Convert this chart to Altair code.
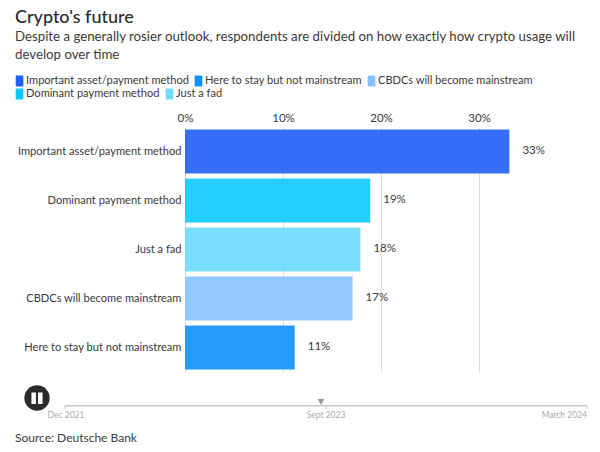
import altair as alt
import pandas as pd

categories = ["Important asset/payment method", "Dominant payment method", "Just a fad",
              "CBDCs will become mainstream", "Here to stay but not mainstream"]
values = [33.1, 18.9, 17.9, 17.1, 11.2]
labels = ["33%", "19%", "18%", "17%", "11%"]
legend_row1 = ["Important asset/payment method", "Here to stay but not mainstream", "CBDCs will become mainstream"]
legend_row2 = ["Dominant payment method", "Just a fad"]
colors_row1 = ["#1f5ff7", "#0f8ff8", "#85c2ff"]
colors_row2 = ["#0ccaff", "#6cdbff"]
x_ticks = [0, 10, 20, 30]

FONT = "Lato"
TXT = "#3a3a3a"
SYMBOL = "M-0.5,-1 L0.5,-1 Q0.7,-1 0.7,-0.75 L0.7,0.75 Q0.7,1 0.5,1 L-0.5,1 Q-0.7,1 -0.7,0.75 L-0.7,-0.75 Q-0.7,-1 -0.5,-1 Z"

df = pd.DataFrame({"category": categories, "value": values, "label": labels})
one = pd.DataFrame({"a": [0]})

x = alt.X("value:Q", scale=alt.Scale(domain=[0, 40], nice=False),
          axis=alt.Axis(orient="top", values=x_ticks, labelExpr="datum.value + '%'", title=None,
                        domain=False, ticks=False, labelPadding=4, labelFont=FONT, labelFontSize=11.5,
                        labelColor=TXT, gridColor="#dcdcdc", grid=True, labelFlush=False))
y = alt.Y("category:N", sort=categories, scale=alt.Scale(paddingInner=0.1, paddingOuter=0.05),
          axis=alt.Axis(title=None, domain=False, ticks=False, labelPadding=4, labelFont=FONT,
                        labelFontSize=11.1, labelColor=TXT, labelLimit=200, grid=False))


def legend(xpos, ypos):
    return alt.Legend(title=None, orient="none", legendX=xpos, legendY=ypos, direction="horizontal",
                      columns=3, symbolType=SYMBOL, symbolSize=121, symbolStrokeWidth=0, symbolOpacity=1,
                      labelFont=FONT, labelFontSize=11.05, labelColor=TXT, columnPadding=4, labelOffset=1,
                      labelLimit=220, padding=0)


bars1 = alt.Chart(df).transform_filter(alt.FieldOneOfPredicate("category", legend_row1)).mark_bar(opacity=0.9).encode(
    x=x, y=y,
    color=alt.Color("category:N", scale=alt.Scale(domain=legend_row1, range=colors_row1), legend=legend(-171, -52)))
bars2 = alt.Chart(df).transform_filter(alt.FieldOneOfPredicate("category", legend_row2)).mark_bar(opacity=0.9).encode(
    x=x, y=y,
    color=alt.Color("category:N", scale=alt.Scale(domain=legend_row2, range=colors_row2), legend=legend(-171, -39)))
text = alt.Chart(df).mark_text(align="left", dx=13, dy=-1, font=FONT, fontSize=11.5, color=TXT).encode(
    x="value:Q", y=alt.Y("category:N", sort=categories), text="label:N")

# timeline furniture
rule = lambda x1, x2, y1, y2, col, w: alt.Chart(one).mark_rule(color=col, strokeWidth=w).encode(
    x=alt.value(x1), x2=alt.value(x2), y=alt.value(y1), y2=alt.value(y2))
px = lambda xv, yv: dict(x=alt.value(xv), y=alt.value(yv))
tl = [rule(-120, 402, 278.7, 278.7, "#c8c8c8", 1.5), rule(-120, -120, 278.7, 282, "#c8c8c8", 1),
      rule(141, 141, 278.7, 282, "#c8c8c8", 1), rule(402, 402, 278.7, 282, "#c8c8c8", 1)]
tri = alt.Chart(one).mark_point(shape="triangle-down", filled=True, size=45, color="#999999", opacity=1).encode(**px(136, 275))
circle = alt.Chart(one).mark_point(shape="circle", filled=True, size=640, color="#2b2b2b", opacity=1).encode(**px(-148, 271))
p1 = rule(-151.3, -151.3, 265.5, 277, "white", 4.5)
p2 = rule(-144.7, -144.7, 265.5, 277, "white", 4.5)


def label(s, xv, yv, size, color, align="center"):
    return alt.Chart(pd.DataFrame({"t": [s]})).mark_text(font=FONT, fontSize=size, color=color, align=align, baseline="middle").encode(
        text="t:N", **px(xv, yv))


texts = [label("Dec 2021", -119, 288, 8.5, "#aaaaaa"), label("Sept 2023", 141, 288, 8.5, "#aaaaaa"),
         label("March 2024", 402, 288, 8.5, "#aaaaaa", "right"), label("Source: Deutsche Bank", -170, 311, 12, TXT, "left")]

chart = alt.layer(bars1, bars2, text, *tl, tri, circle, p1, p2, *texts).resolve_scale(color="independent").properties(
    width=392, height=245,
    padding={"left": 177, "top": 119, "right": 15, "bottom": 72},
    autosize=alt.AutoSizeParams(type="none"),
    title=alt.TitleParams(text="Crypto's future",
                          subtitle=["Despite a generally rosier outlook, respondents are divided on how exactly how crypto usage will",
                                    "develop over time"],
                          anchor="start", frame="group", dx=-170, offset=14, font=FONT, fontSize=18, fontWeight=500,
                          color="#2b2b2b", subtitleFont=FONT, subtitleFontSize=13.25, subtitleColor=TXT,
                          subtitlePadding=4, subtitleLineHeight=18),
).configure_view(stroke=None)

chart.save("out.html", embed_options={"renderer": "svg", "actions": False})
